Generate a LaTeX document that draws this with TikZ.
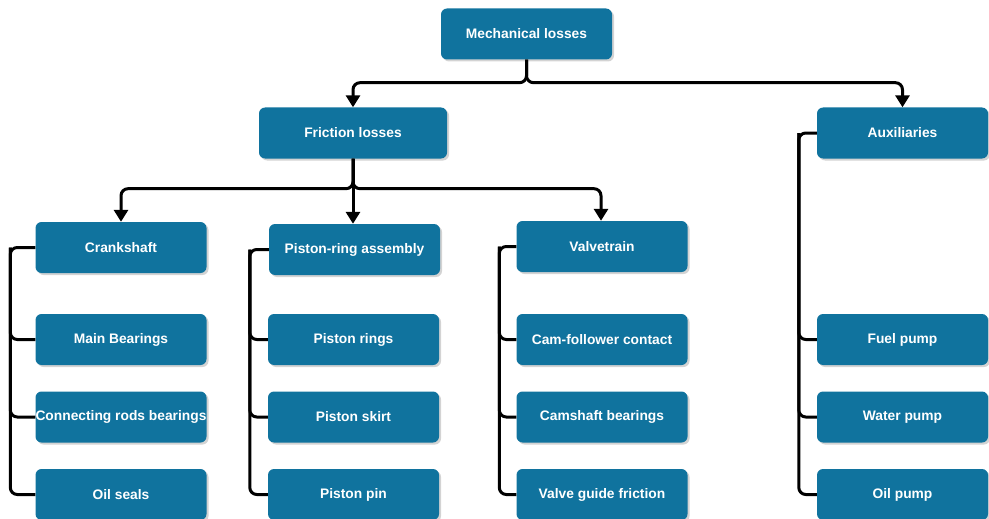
\documentclass[tikz,border=0pt]{standalone}
\usepackage{fontspec}
\setmainfont{Liberation Sans}
\usetikzlibrary{arrows.meta,shadows,calc}
\definecolor{boxblue}{HTML}{10739E}
\tikzset{
  box/.style={draw=none, fill=boxblue, rounded corners=6pt, minimum width=171pt, minimum height=51pt,
    inner sep=0pt, text=white, font=\bfseries\fontsize{13.8}{16}\selectfont,
    drop shadow={shadow xshift=2pt, shadow yshift=-2pt, opacity=0.35, fill=gray}},
  conn/.style={draw=black, line width=3pt, rounded corners=7pt, -{Triangle[length=12pt,width=14pt]}},
  brack/.style={draw=black, line width=3pt, rounded corners=7pt}
}
\begin{document}
\begin{tikzpicture}[x=1pt,y=-1pt]
\useasboundingbox (0,0) rectangle (989,519);
% top levels
\node[box] (ml) at (526.5,34) {Mechanical losses};
\node[box, minimum width=188pt] (fl) at (353,133) {Friction losses};
\node[box] (aux) at (902.5,133) {Auxiliaries};
% column heads
\node[box] (crank) at (121,247.5) {Crankshaft};
\node[box] (pra) at (354.5,249.5) {Piston-ring assembly};
\node[box] (vt) at (602,246.5) {Valvetrain};
% crankshaft children
\node[box] (c1) at (121,339.5) {Main Bearings};
\node[box] (c2) at (121,417) {Connecting rods bearings};
\node[box] (c3) at (121,494.5) {Oil seals};
% piston children
\node[box] (p1) at (353.5,339.5) {Piston rings};
\node[box] (p2) at (353.5,417) {Piston skirt};
\node[box] (p3) at (353.5,494.5) {Piston pin};
% valvetrain children
\node[box] (v1) at (602,339.5) {Cam-follower contact};
\node[box] (v2) at (602,417) {Camshaft bearings};
\node[box] (v3) at (602,494.5) {Valve guide friction};
% auxiliaries children
\node[box] (a1) at (902.5,339.5) {Fuel pump};
\node[box] (a2) at (902.5,417) {Water pump};
\node[box] (a3) at (902.5,494.5) {Oil pump};
% top connectors
\coordinate (mj) at ($(ml.south)+(0,23)$);
\draw[conn] (ml.south) -- (mj) -| (fl.north);
\draw[conn] (ml.south) -- (mj) -| (aux.north);
\coordinate (fj) at ($(fl.south)+(0,30)$);
\draw[conn] (fl.south) -- (fj) -| (crank.north);
\draw[conn] (fl.south) -- (fj) -- (fj |- pra.north);
\draw[conn] (fl.south) -- (fj) -| ([xshift=-1pt]vt.north);
% brackets
\coordinate (ck) at ($(crank.west)+(-25,0)$);
\draw[brack] (crank.west) -- (ck) |- (c3.west);
\draw[brack] (ck) |- (c1.west);
\draw[brack] (ck) |- (c2.west);
\coordinate (pk) at ($(pra.west)+(-19,0)$);
\draw[brack] (pra.west) -- (pk) |- (p3.west);
\draw[brack] (pk) |- (p1.west);
\draw[brack] (pk) |- (p2.west);
\coordinate (vk) at ($(vt.west)+(-17,0)$);
\draw[brack] (vt.west) -- (vk) |- (v3.west);
\draw[brack] (vk) |- (v1.west);
\draw[brack] (vk) |- (v2.west);
\coordinate (ak) at ($(aux.west)+(-18,0)$);
\draw[brack] (aux.west) -- (ak) |- (a3.west);
\draw[brack] (ak) |- (a1.west);
\draw[brack] (ak) |- (a2.west);
\end{tikzpicture}
\end{document}
